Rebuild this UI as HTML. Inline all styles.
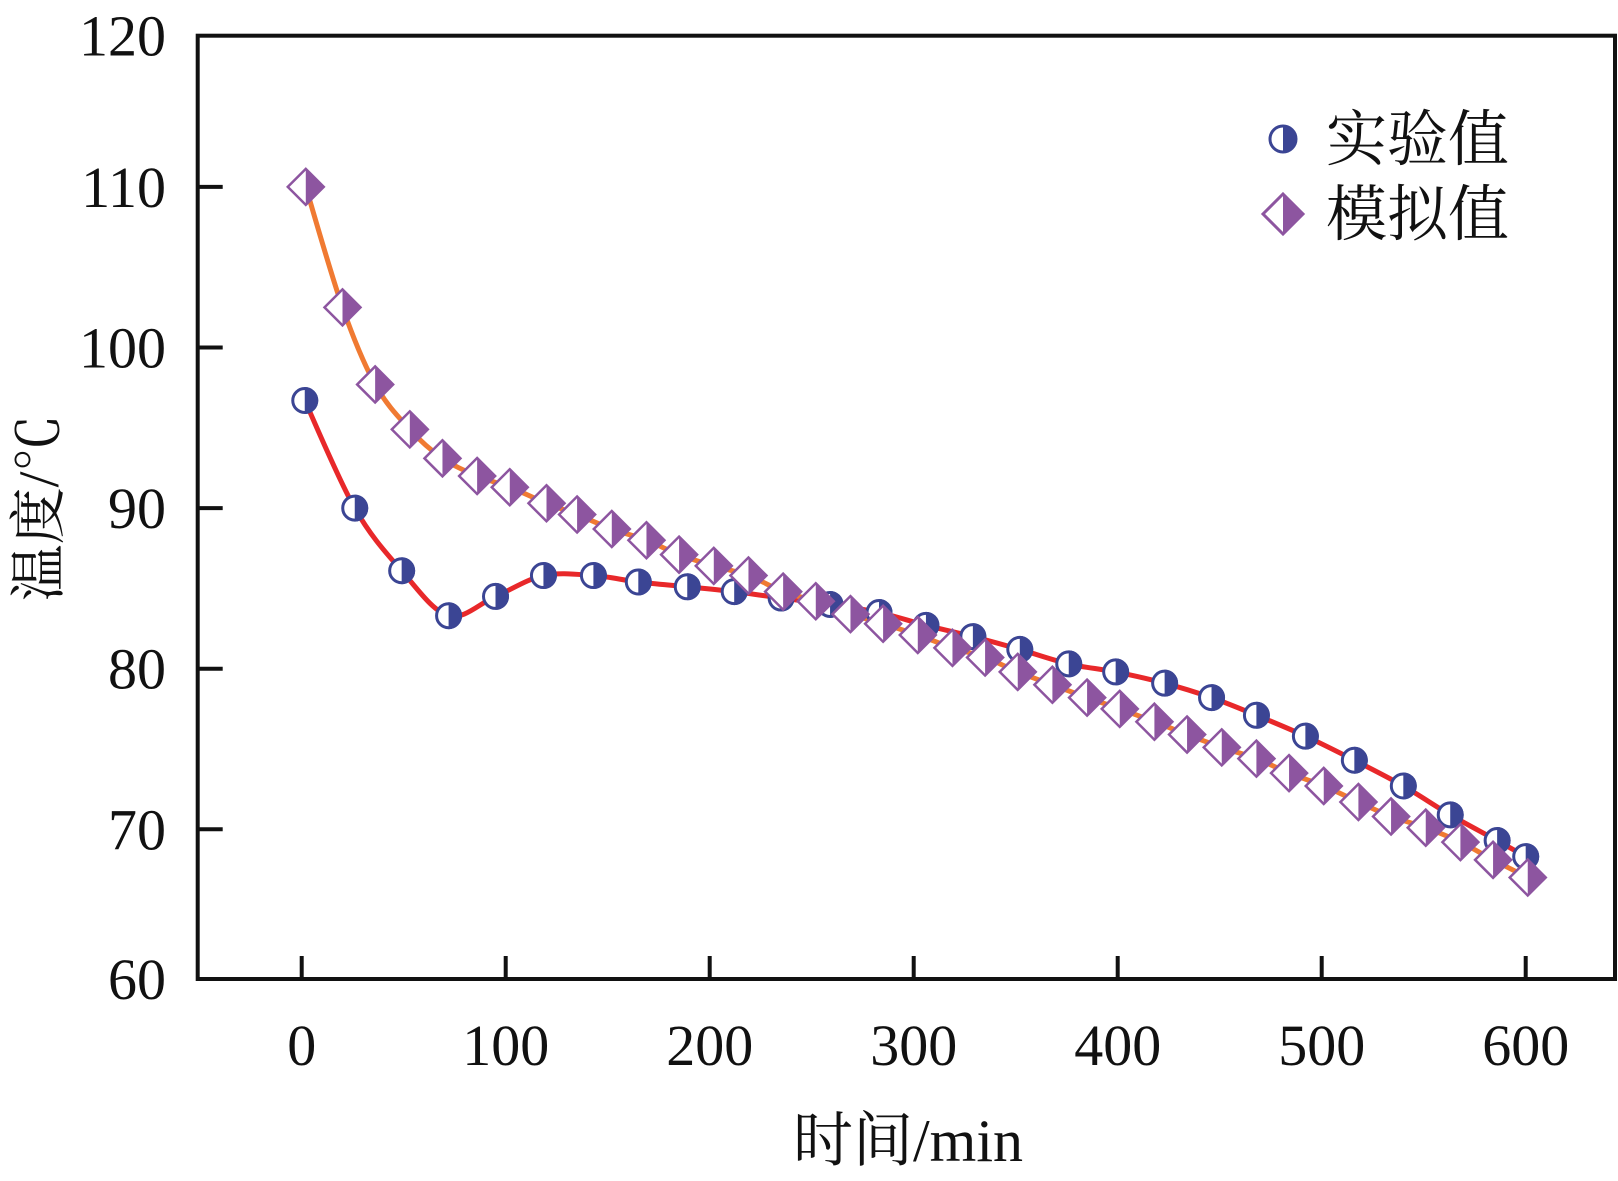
<!DOCTYPE html>
<html><head><meta charset="utf-8"><style>
html,body{margin:0;padding:0;background:#fff;width:1618px;height:1181px;overflow:hidden}
svg{display:block}
text{font-family:"Liberation Serif","Noto Serif CJK SC",serif;fill:#111}
</style></head><body>
<svg id="chart" width="1618" height="1181" viewBox="0 0 1618 1181" xmlns="http://www.w3.org/2000/svg">
<g id="axes"></g>
<g id="series"></g>
<g id="legend">
  <g>
    <circle cx="1283" cy="139" r="13" fill="#fff" stroke="#3b4594" stroke-width="3"/>
    <path d="M1283,126 A13,13 0 0 1 1283,152 Z" fill="#3b4594"/>
    <text x="1326" y="160" font-size="61">实验值</text>
  </g>
  <g>
    <path d="M1283,194 L1303,214 L1283,234 L1263,214 Z" fill="#fff" stroke="#8d55a0" stroke-width="3"/>
    <path d="M1283,194 L1303,214 L1283,234 Z" fill="#8d55a0"/>
    <text x="1326" y="235" font-size="61">模拟值</text>
  </g>
</g>
<text x="908" y="1161" font-size="60" text-anchor="middle">时间/min</text>
<text transform="translate(58,508) rotate(-90)" font-size="57" text-anchor="middle">温度/℃</text>
</svg>
<script>
const expTimes=[1.5,26,49,72,95,118.5,143,165,189,212,235,259,283,306,329,352,376,399,423,446,468,492,516,540,563,586,600];
const expValues=[96.7,90.0,86.1,83.3,84.5,85.8,85.8,85.4,85.1,84.8,84.4,84.0,83.5,82.7,82.0,81.2,80.3,79.8,79.1,78.2,77.1,75.8,74.3,72.7,70.9,69.3,68.3];
const simTimes=[2,20,36,53,69,86,102,120,135,152,169,185,202,219,236,252,269,285,302,319,335,351,368,385,401,418,434,451,468,484,501,518,534,551,568,584,601];
const simValues=[110,102.5,97.7,94.9,93.1,92.0,91.3,90.3,89.6,88.7,88.0,87.1,86.4,85.8,84.8,84.2,83.4,82.8,82.1,81.3,80.7,79.8,79.0,78.2,77.5,76.7,75.9,75.1,74.4,73.5,72.7,71.7,70.8,70.1,69.2,68.1,67.0];
const xTicks=[0,100,200,300,400,500,600];
const yTicks=[60,70,80,90,100,110,120];

const NS="http://www.w3.org/2000/svg";
const L=197.7,R=1615,T=35.7,B=979;
const xs=v=>301.7+(v-0)*2.04;
const ys=v=>829.3-(v-70)*16.06;
function mk(tag,attrs,parent){const e=document.createElementNS(NS,tag);for(const k in attrs)e.setAttribute(k,attrs[k]);parent.appendChild(e);return e;}
const axes=document.getElementById('axes'),ser=document.getElementById('series');
const frame=mk('rect',{x:L,y:T,width:R-L,height:B-T,fill:'none',stroke:'#111','stroke-width':4},axes);


xTicks.forEach(t=>{
  const x=xs(t);
  const tk=mk('line',{x1:x,x2:x,y1:B,y2:B-23,stroke:'#111','stroke-width':4},axes);
  
  
  const lb=mk('text',{x:x,y:1065,'font-size':58,'text-anchor':'middle'},axes);
  lb.textContent=t;
  
  
});
yTicks.forEach(t=>{
  let y=ys(t);
  if(t>60&&t<120){
    const tk=mk('line',{x1:L,x2:L+25,y1:y,y2:y,stroke:'#111','stroke-width':4},axes);
    
    
  }
  y=Math.min(Math.max(y,T),B);
  const lb=mk('text',{x:166,y:y+20,'font-size':58,'text-anchor':'end'},axes);
  lb.textContent=t;
  
  
});
function smooth(px){
  let d='M'+px[0][0]+','+px[0][1];
  for(let i=0;i<px.length-1;i++){
    const p0=px[Math.max(i-1,0)],p1=px[i],p2=px[i+1],p3=px[Math.min(i+2,px.length-1)];
    const c1=[p1[0]+(p2[0]-p0[0])/6,p1[1]+(p2[1]-p0[1])/6];
    const c2=[p2[0]-(p3[0]-p1[0])/6,p2[1]-(p3[1]-p1[1])/6];
    d+=' C'+c1+' '+c2+' '+p2;
  }
  return d;
}
const expPx=expTimes.map((t,i)=>[xs(t),ys(expValues[i])]);
const simPx=simTimes.map((t,i)=>[xs(t),ys(simValues[i])]);
const l1=mk('path',{d:smooth(expPx),fill:'none',stroke:'#e8282a','stroke-width':5},ser);


const l2=mk('path',{d:smooth(simPx),fill:'none',stroke:'#f07a32','stroke-width':5},ser);


expPx.forEach(([x,y])=>{
  const g=mk('g',{},ser);
  
  
  mk('circle',{cx:x,cy:y,r:12,fill:'#fff',stroke:'#3b4594','stroke-width':3},g);
  mk('path',{d:`M${x},${y-13.5} A13.5,13.5 0 0 1 ${x},${y+13.5} Z`,fill:'#3b4594'},g);
});
simPx.forEach(([x,y])=>{
  const g=mk('g',{},ser);
  
  
  mk('path',{d:`M${x},${y-18} L${x+18},${y} L${x},${y+18} L${x-18},${y} Z`,fill:'#fff',stroke:'#8d55a0','stroke-width':2.5},g);
  mk('path',{d:`M${x},${y-18} L${x+18},${y} L${x},${y+18} Z`,fill:'#8d55a0'},g);
});
</script>
</body></html>
